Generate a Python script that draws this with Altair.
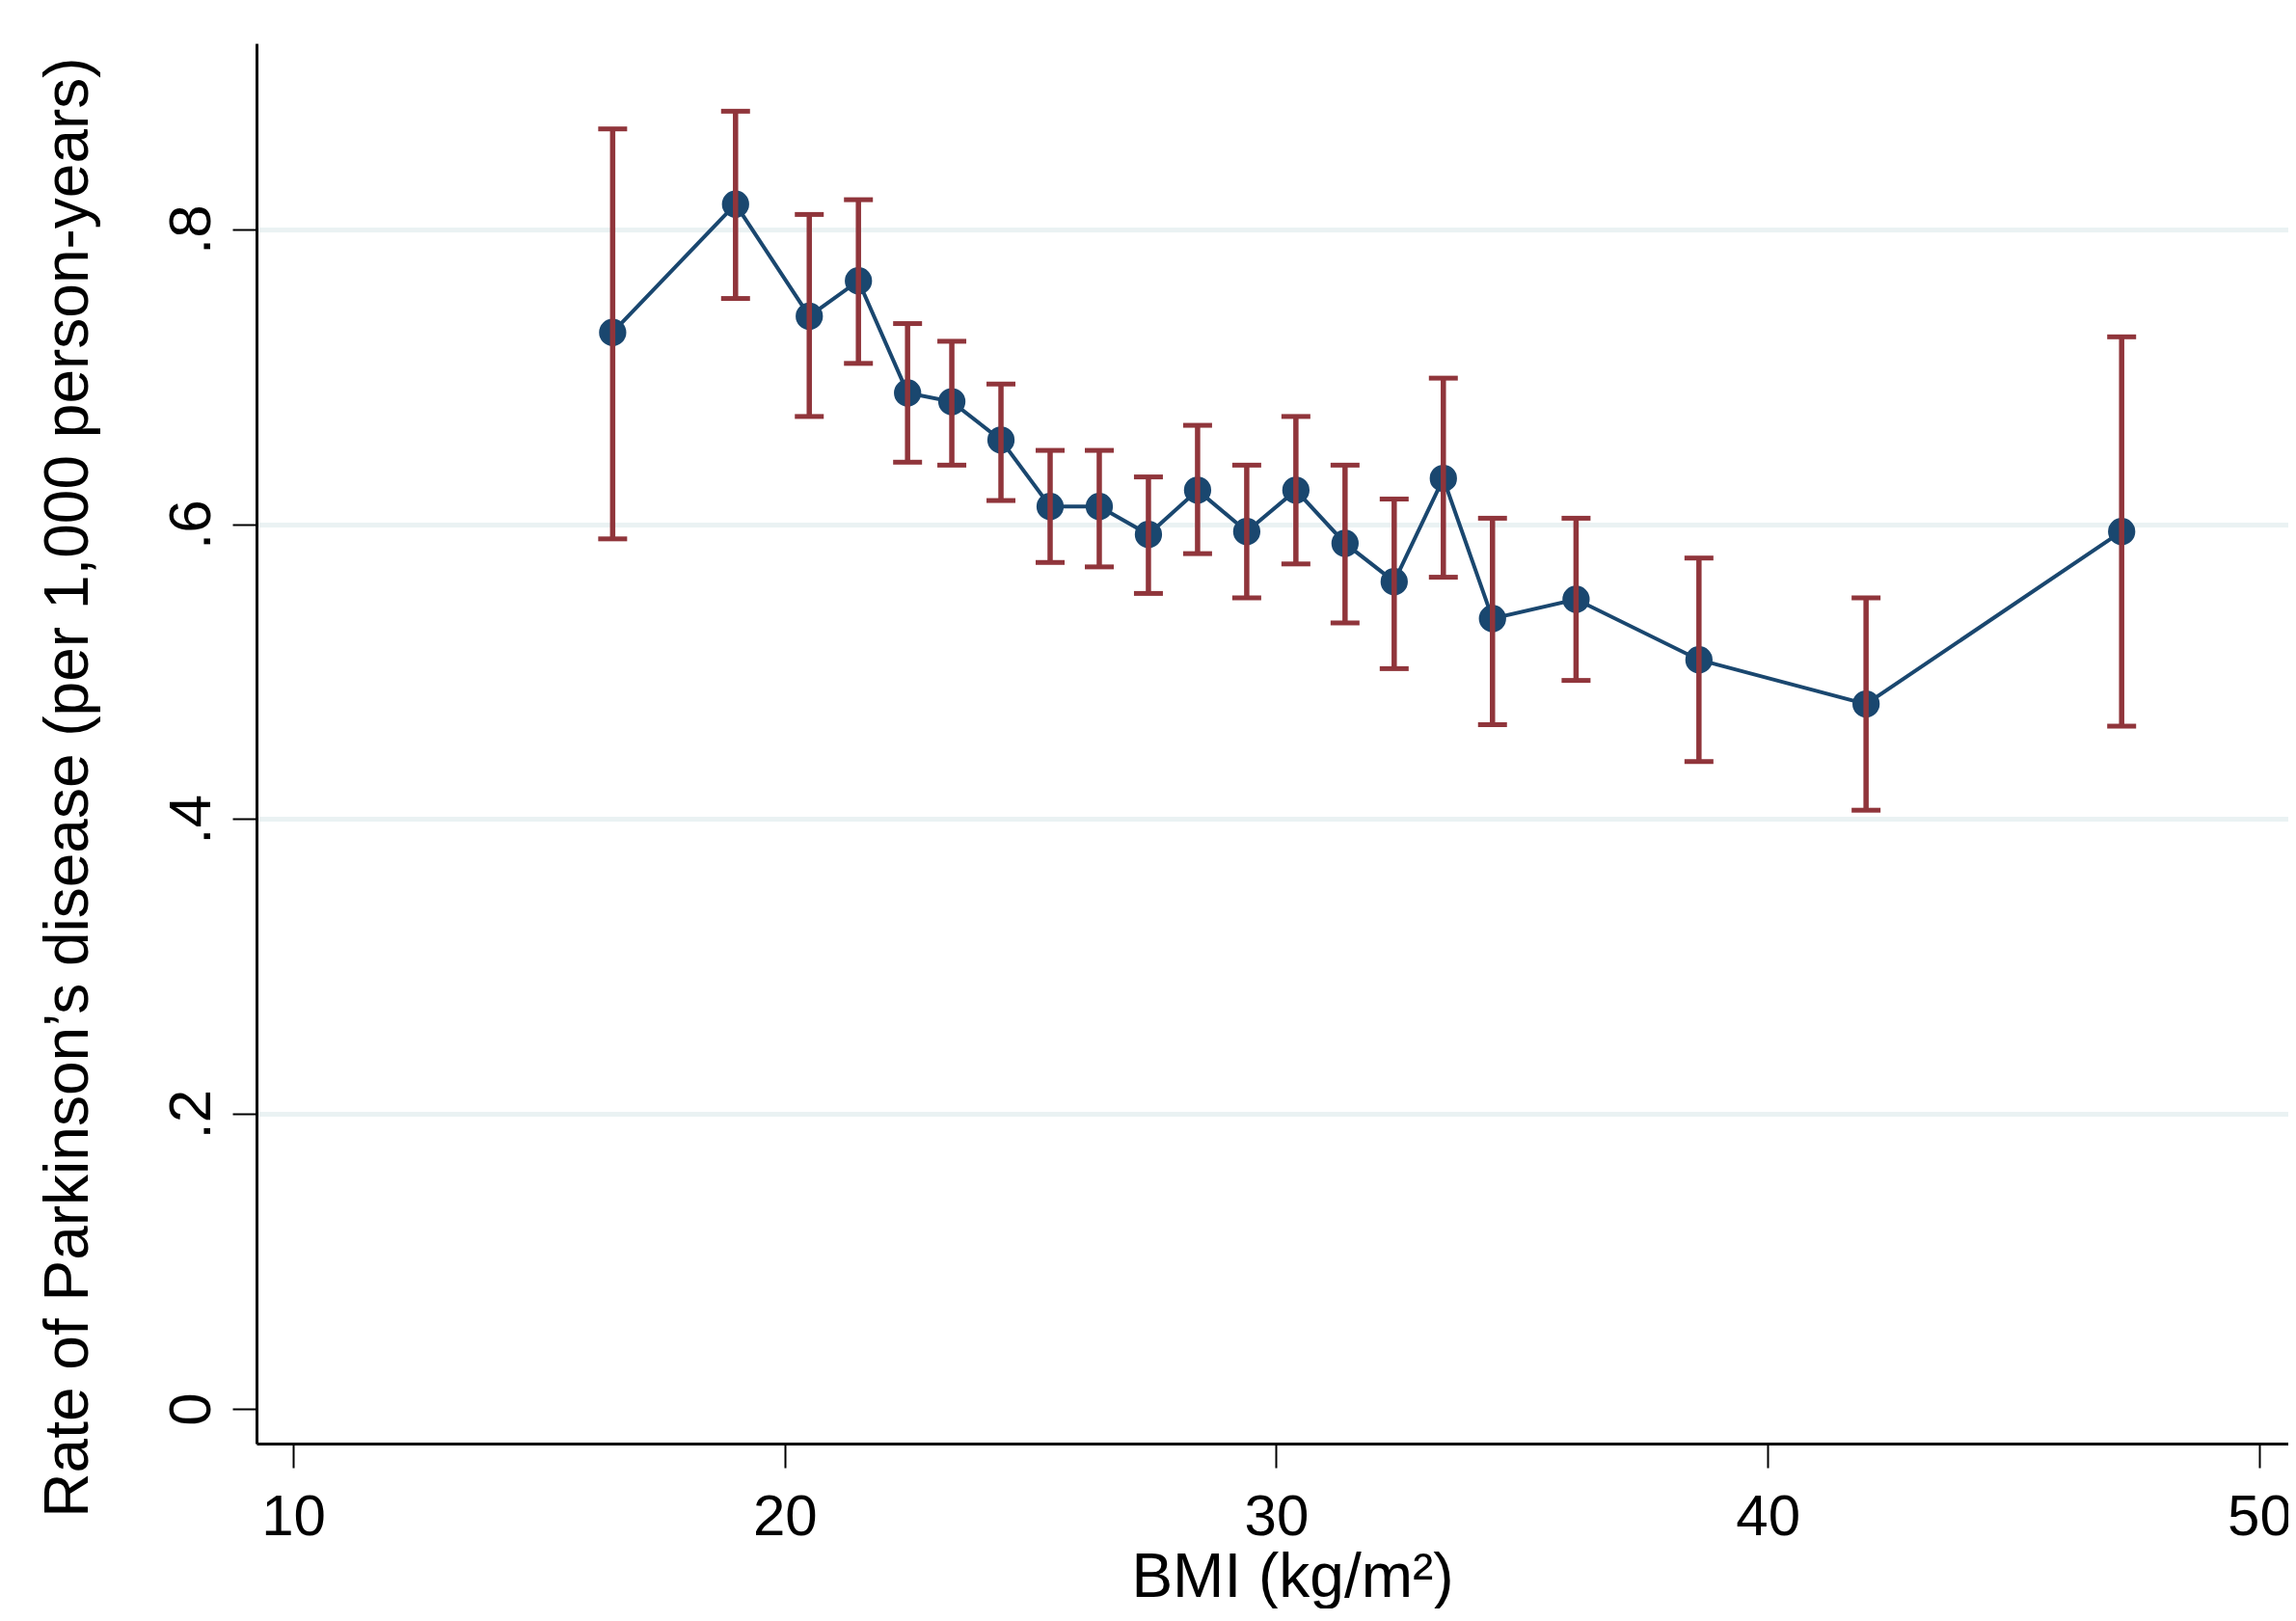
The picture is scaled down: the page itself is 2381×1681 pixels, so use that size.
import altair as alt
import pandas as pd

# Data
bmi = [16.5, 19.0, 20.5, 21.5, 22.5, 23.4, 24.4, 25.4, 26.4, 27.4, 28.4,
       29.4, 30.4, 31.4, 32.4, 33.4, 34.4, 36.1, 38.6, 42.0, 47.2]
rate = [0.730, 0.817, 0.741, 0.765, 0.689, 0.683, 0.657, 0.612, 0.612, 0.593, 0.623,
        0.595, 0.623, 0.587, 0.561, 0.631, 0.536, 0.549, 0.508, 0.478, 0.595]
lo = [0.590, 0.753, 0.673, 0.709, 0.642, 0.640, 0.616, 0.574, 0.571, 0.553, 0.580,
      0.550, 0.573, 0.533, 0.502, 0.564, 0.464, 0.494, 0.439, 0.406, 0.463]
hi = [0.868, 0.880, 0.810, 0.820, 0.736, 0.724, 0.695, 0.650, 0.650, 0.632, 0.667,
      0.640, 0.673, 0.640, 0.617, 0.699, 0.604, 0.604, 0.577, 0.550, 0.727]

x_ticks = [10, 20, 30, 40, 50]
y_ticks = [0, 0.2, 0.4, 0.6, 0.8]

X_TITLE = "BMI (kg/m²)"
Y_TITLE = "Rate of Parkinson’s disease (per 1,000 person-years)"

df = pd.DataFrame({"bmi": bmi, "rate": rate, "lo": lo, "hi": hi})

FONT = "Liberation Sans"
NAVY = "#1a476f"
MAROON = "#90353b"

W, H = 2107, 1452
xscale = alt.Scale(domain=[9.254, 50.59], nice=False, zero=False)
yscale = alt.Scale(domain=[-0.0235, 0.926], nice=False, zero=False)

xaxis = alt.Axis(
    values=x_ticks, grid=False,
    domainColor="black", domainWidth=3,
    tickColor="black", tickWidth=2, tickSize=25,
    labelFont=FONT, labelFontSize=60, labelColor="black",
    labelBaseline="alphabetic", labelPadding=69, labelFlush=False,
    titleFont=FONT, titleFontSize=64, titleFontWeight="normal", titleColor="black",
    titleX=1074, titleY=158, titleAlign="center", titleBaseline="alphabetic",
)

yaxis = alt.Axis(
    values=y_ticks,
    labelExpr="datum.value == 0 ? '0' : '.' + round(datum.value * 10)",
    grid=True, gridColor="#EAF2F3", gridWidth=5,
    gridOpacity={"condition": {"test": "datum.value === 0", "value": 0}, "value": 1},
    domainColor="black", domainWidth=3,
    tickColor="black", tickWidth=2, tickSize=25,
    labelFont=FONT, labelFontSize=62, labelColor="black",
    labelAngle=270, labelAlign="center", labelBaseline="alphabetic",
    labelPadding=24, labelFlush=False,
    titleFont=FONT, titleFontSize=64, titleFontWeight="normal", titleColor="black",
    titleAngle=270, titleX=-176, titleY=771, titleAlign="center",
    titleBaseline="alphabetic",
)

base = alt.Chart(df)

line = base.mark_line(color=NAVY, strokeWidth=4).encode(
    x=alt.X("bmi:Q", scale=xscale, axis=xaxis, title=X_TITLE),
    y=alt.Y("rate:Q", scale=yscale, axis=yaxis, title=Y_TITLE),
)

points = base.mark_circle(color=NAVY, opacity=1, size=800).encode(
    x=alt.X("bmi:Q", scale=xscale, title=X_TITLE),
    y=alt.Y("rate:Q", scale=yscale, title=Y_TITLE),
)

rules = base.mark_rule(color=MAROON, strokeWidth=5.5).encode(
    x=alt.X("bmi:Q", scale=xscale, title=X_TITLE),
    y=alt.Y("lo:Q", scale=yscale, title=Y_TITLE),
    y2="hi:Q",
)

caps_lo = base.mark_tick(color=MAROON, orient="horizontal", size=30,
                         thickness=5, opacity=1).encode(
    x=alt.X("bmi:Q", scale=xscale, title=X_TITLE),
    y=alt.Y("lo:Q", scale=yscale, title=Y_TITLE),
)

caps_hi = base.mark_tick(color=MAROON, orient="horizontal", size=30,
                         thickness=5, opacity=1).encode(
    x=alt.X("bmi:Q", scale=xscale, title=X_TITLE),
    y=alt.Y("hi:Q", scale=yscale, title=Y_TITLE),
)

chart = alt.layer(line, points, rules, caps_lo, caps_hi).properties(
    width=W, height=H,
    padding={"left": 258, "top": 37, "right": 0, "bottom": 171},
    autosize=alt.AutoSizeParams(type="none"),
    background="white",
).configure_view(strokeWidth=0)

chart.save("out.html", embed_options={"renderer": "svg", "actions": False})
